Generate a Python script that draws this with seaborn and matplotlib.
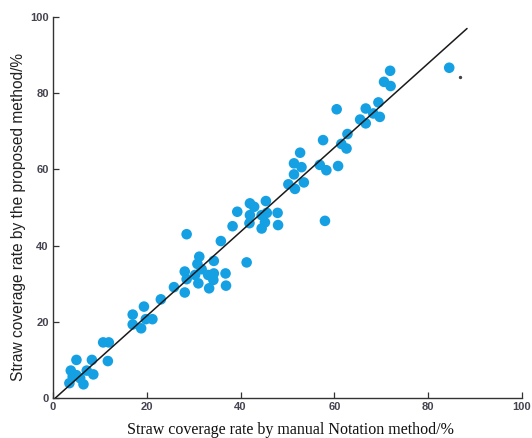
import matplotlib
matplotlib.use("Agg")
import matplotlib.pyplot as plt
import seaborn as sns
import pandas as pd

# Manual notation method (%) vs proposed method (%)
manual = [3.5, 3.8, 4.2, 5.0, 5.8, 6.5, 5.0, 7.2, 8.3, 8.6, 10.7, 11.9, 11.7,
          17.0, 17.0, 18.8, 19.4, 19.8, 21.2, 23.0, 25.8,
          28.1, 28.5, 28.1, 28.5, 30.3, 30.8, 31.2, 31.7, 31.0, 33.3, 33.1, 34.3,
          34.2, 34.3, 36.8, 36.9, 35.8, 41.3,
          38.3, 39.3, 42.0, 42.9, 45.4, 42.0, 44.5, 45.6, 47.9, 41.9, 45.2, 44.5, 48.0,
          50.2, 51.6, 51.4, 51.4, 53.0, 52.7, 53.5, 56.9, 58.3, 57.6, 58.0, 60.8,
          61.5, 62.6, 62.8,
          60.5, 65.5, 66.7, 66.7, 68.3, 69.4, 69.7, 70.6, 71.9, 72.0, 84.5]
proposed = [3.9, 7.2, 5.6, 6.0, 5.2, 3.6, 10.0, 7.2, 10.0, 6.2, 14.6, 14.6, 9.7,
            21.9, 19.3, 18.3, 24.0, 20.7, 20.7, 25.9, 29.1,
            27.7, 31.2, 33.2, 43.0, 32.3, 35.2, 37.1, 33.8, 30.1, 28.8, 32.3, 32.7,
            31.0, 36.0, 32.7, 29.5, 41.2, 35.6,
            45.1, 48.9, 51.1, 50.2, 51.7, 48.0, 48.0, 48.6, 48.6, 45.9, 46.1, 44.5, 45.4,
            56.1, 54.9, 58.7, 61.6, 60.6, 64.4, 56.6, 61.2, 59.8, 67.7, 46.5, 60.9,
            66.7, 65.5, 69.3,
            75.8, 73.1, 76.0, 72.1, 74.7, 77.6, 73.8, 83.0, 85.9, 81.9, 86.7]

# fitted line end points
fit_x = [0.5, 88.3]
fit_y = [0.0, 97.0]

# stray mark
stray_x = [86.9]
stray_y = [84.2]

ticks = [0, 20, 40, 60, 80, 100]
xlabel = "Straw coverage rate by manual Notation method/%"
ylabel = "Straw coverage rate by the proposed method/%"

sns.set_style("ticks")
plt.rcParams['font.family'] = ['Liberation Sans', 'DejaVu Sans']

df = pd.DataFrame({"manual": manual, "proposed": proposed})
fit = pd.DataFrame({"x": fit_x, "y": fit_y})

fig = plt.figure(figsize=(5.32, 4.38), dpi=100)
ax = fig.add_axes([0.0996, 0.0913, 0.8814, 0.8697])

sns.lineplot(data=fit, x="x", y="y", ax=ax, color="#1a1a1a", linewidth=1.1, zorder=3)
sns.scatterplot(data=df, x="manual", y="proposed", ax=ax, color="#14a0e3",
                s=58, edgecolor="none", zorder=2)
ax.scatter(stray_x, stray_y, s=2, color="#444444", zorder=2)

ax.set_xlim(0, 100)
ax.set_ylim(0, 100)
ax.set_xticks(ticks)
ax.set_yticks(ticks)
ax.tick_params(direction="in", length=4, width=0.9, color="#333333",
               labelsize=8, labelcolor="#444450", pad=3)
for lab in ax.get_xticklabels() + ax.get_yticklabels():
    lab.set_fontweight("bold")
for s in ["top", "right"]:
    ax.spines[s].set_visible(False)
for s in ["left", "bottom"]:
    ax.spines[s].set_color("#333333")
    ax.spines[s].set_linewidth(1.0)

ax.set_xlabel(xlabel, family=["Liberation Serif", "DejaVu Serif"], fontsize=11.5,
              color="#111111", va="center")
ax.xaxis.set_label_coords(0.506, -0.084)
ax.set_ylabel(ylabel, family=["Liberation Sans", "DejaVu Sans"],
              fontsize=11.2, color="#222222", va="center")
ax.yaxis.set_label_coords(-0.0746, 0.476)

fig.savefig("out.png", dpi=100)
